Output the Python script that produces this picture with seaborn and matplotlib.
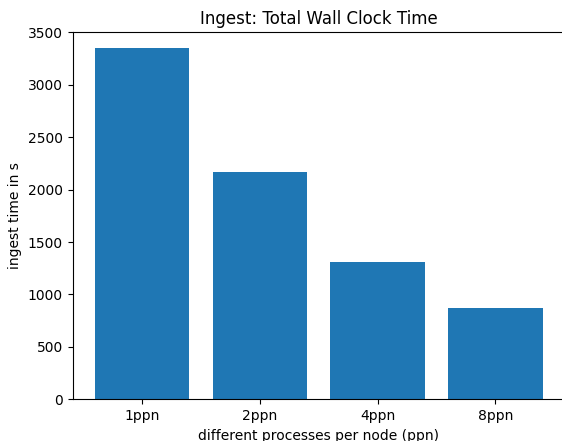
import matplotlib
matplotlib.use("Agg")
import matplotlib.pyplot as plt
import seaborn as sns
import pandas as pd

categories = ["1ppn", "2ppn", "4ppn", "8ppn"]
ingest_times = [3348, 2163, 1305, 870]

df = pd.DataFrame({"ppn": categories, "time": ingest_times})

fig = plt.figure(figsize=(5.62, 4.41), dpi=100)
ax = fig.add_axes([72.5 / 562, 41.7 / 441, 492.4 / 562, 367.0 / 441])

sns.barplot(data=df, x="ppn", y="time", color="#1f77b4", saturation=1,
            width=0.8, ax=ax, edgecolor="none")

ax.set_xlim(-0.59, 3.59)
ax.set_ylim(0, 3500)
ax.set_yticks(range(0, 3501, 500))
ax.set_title("Ingest: Total Wall Clock Time", fontsize=12)
ax.set_xlabel("different processes per node (ppn)", fontsize=10)
ax.set_ylabel("ingest time in s", fontsize=10)
ax.tick_params(labelsize=10)

fig.savefig("out.png", dpi=100)
